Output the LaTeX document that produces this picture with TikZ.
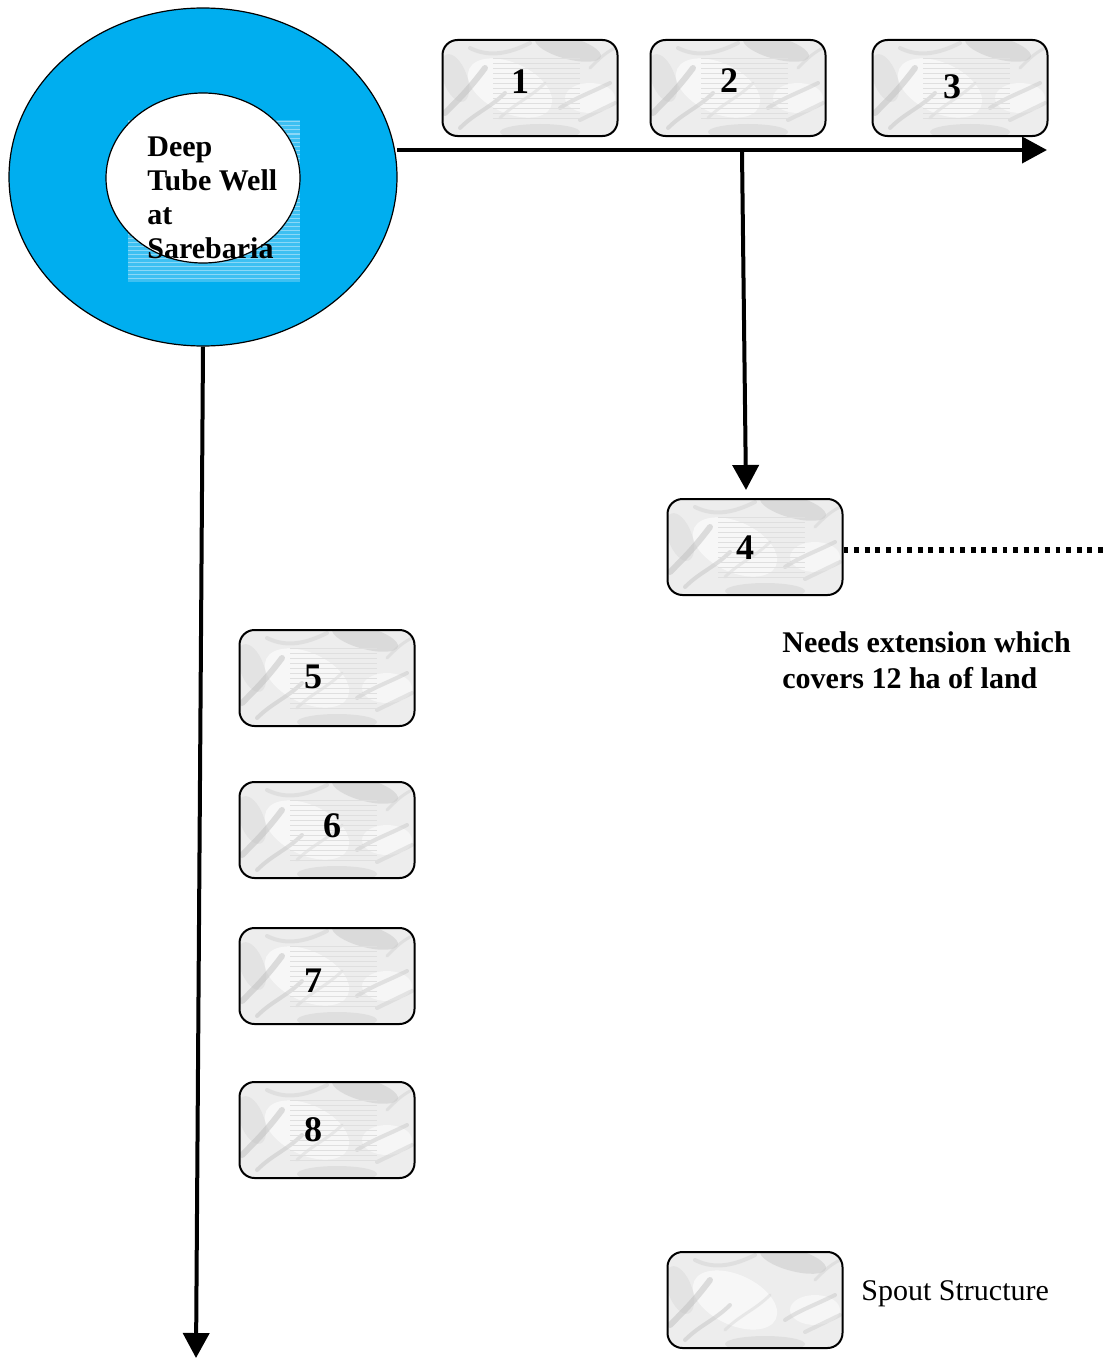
\documentclass[tikz,border=0pt]{standalone}
\usepackage{fontspec}
\setmainfont{Liberation Serif}
\usetikzlibrary{shapes.geometric,arrows.meta}
\definecolor{wellblue}{HTML}{00AEEF}
\definecolor{stripeA}{HTML}{3DC0F2}
\definecolor{stripeB}{HTML}{8AD8F7}
\newcommand\mymarble{%
 \begin{scope}[shift={(path picture bounding box.center)}]
  \fill[gray!14] (-95,-55) rectangle (95,55);
  \fill[white,opacity=.6] (-20,0) ellipse [x radius=45, y radius=25, rotate=-25];
  \fill[white,opacity=.5] (60,10) ellipse [x radius=25, y radius=15];
  \fill[gray!55,opacity=.35] (38,-40) ellipse [x radius=34, y radius=11, rotate=-15];
  \fill[gray!45,opacity=.35] (10,44) ellipse [x radius=40, y radius=8];
  \fill[gray!40,opacity=.3] (-75,-10) ellipse [x radius=12, y radius=25, rotate=20];
  \draw[gray!55,opacity=.45,line width=3pt,line cap=round] (-85,25) .. controls (-70,10) and (-60,0) .. (-45,-20);
  \draw[gray!50,opacity=.45,line width=2pt,line cap=round] (-70,40) .. controls (-55,25) and (-40,20) .. (-25,5);
  \draw[gray!45,opacity=.45,line width=2pt,line cap=round] (30,20) .. controls (45,10) and (60,5) .. (80,-5);
  \draw[gray!40,opacity=.45,line width=2pt,line cap=round] (50,32) -- (85,15);
  \draw[gray!40,opacity=.4,line width=2pt,line cap=round] (-60,-40) .. controls (-40,-30) and (-20,-35) .. (0,-45);
  \draw[gray!40,opacity=.35,line width=1.5pt,line cap=round] (-30,30) .. controls (-15,15) and (0,10) .. (15,-5);
  \draw[gray!45,opacity=.35,line width=1.5pt,line cap=round] (60,-20) .. controls (70,-30) and (75,-35) .. (85,-40);
 \end{scope}}
\newcommand\mylined{%
 \begin{scope}[shift={(path picture bounding box.center)}]
  \foreach \k in {-30,-25,...,30} \draw[gray!25,line width=0.3pt] (-37,\k) -- (50,\k);
 \end{scope}}
\begin{document}
\begin{tikzpicture}[x=0.5pt,y=-0.5pt,
  spout/.style={draw=black,line width=1pt,rounded corners=7.5pt,minimum width=87.5pt,minimum height=48pt,inner sep=0pt,path picture={\mymarble}},
  numbox/.style={draw=black,line width=1pt,rounded corners=7.5pt,minimum width=87.5pt,minimum height=48pt,inner sep=0pt,path picture={\mymarble\mylined}},
  num/.style={font=\bfseries\fontsize{18}{20}\selectfont,inner sep=0pt},
  flow/.style={line width=2pt,-{Triangle[length=12.5pt,width=13pt]}},
  bold15/.style={font=\bfseries\fontsize{15}{17}\selectfont,align=left,inner sep=0pt}]
\useasboundingbox (0,0) rectangle (1106,1359);
% well
\node[ellipse,draw,line width=0.6pt,fill=wellblue,minimum width=194pt,minimum height=169pt,inner sep=0pt] (well) at (203,177) {};
\fill[stripeA] (128,120) rectangle (300,282);
\foreach \y in {122,126,...,280} \draw[stripeB,line width=0.5pt] (128,\y) -- (300,\y);
\node[ellipse,draw,line width=0.6pt,fill=white,minimum width=97pt,minimum height=85pt,inner sep=0pt] (inner) at (203,178) {};
\node[bold15,anchor=north west] (wt) at (147,136) {Deep\\Tube Well\\at\\Sarebaria};
% boxes
\node[numbox] (b1) at (530,88) {};
\node[numbox] (b2) at (738,88) {};
\node[numbox] (b3) at (960,88) {};
\node[numbox] (b4) at (755,547) {};
\node[numbox] (b5) at (327,678) {};
\node[numbox] (b6) at (327,830) {};
\node[numbox] (b7) at (327,976) {};
\node[numbox] (b8) at (327,1130) {};
\node[spout] (leg) at (755,1300) {};
\node[num] (t1) at (520,82) {1};
\node[num] (t2) at (729,81) {2};
\node[num] (t3) at (952,87) {3};
\node[num] (t4) at (745,548) {4};
\node[num] (t5) at (313,677) {5};
\node[num] (t6) at (332,826) {6};
\node[num] (t7) at (313,981) {7};
\node[num] (t8) at (313,1130) {8};
% connectors
\coordinate (h0) at (397,150);
\coordinate (h1) at (1047,150);
\coordinate (v0) at (742,152);
\coordinate (v1) at (746,490);
\coordinate (lend) at (196,1358);
\coordinate (dend) at (1106,550);
\draw[flow] (h0) -- (h1);
\draw[flow] (v0) -- (v1);
\draw[flow] (well.south) -- (lend);
\draw[line width=2.6pt,dash pattern=on 2.4pt off 2.9pt] (b4.east |- dend) -- (dend);
% texts
\node[bold15,anchor=north west,font=\bfseries\fontsize{15}{18}\selectfont] (note) at (782,631) {Needs extension which\\covers 12 ha of land};
\node[anchor=base west,inner sep=0pt,font=\fontsize{15}{18}\selectfont] (legt) at (861,1300) {Spout Structure};
\end{tikzpicture}
\end{document}
